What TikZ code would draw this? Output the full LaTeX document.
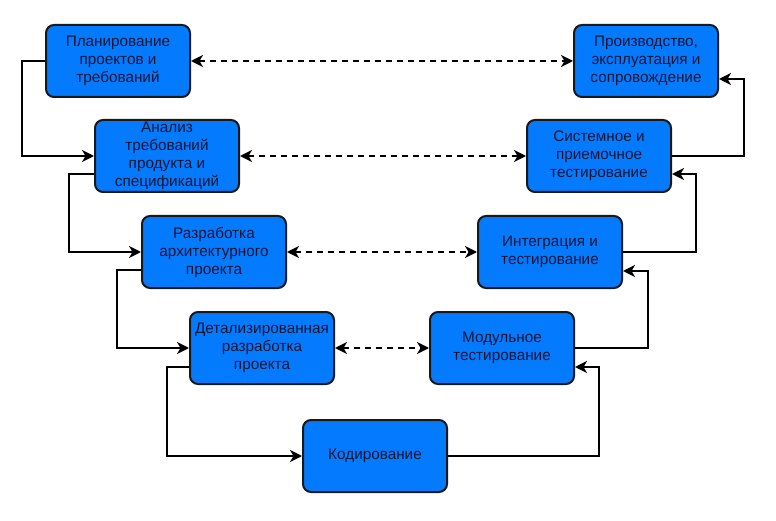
\documentclass[tikz,border=0pt]{standalone}
\usepackage{fontspec}
\setmainfont{Liberation Sans}
\usetikzlibrary{arrows.meta}
\usetikzlibrary{positioning}

\definecolor{stageblue}{RGB}{4,122,255}
\definecolor{stagetext}{RGB}{16,22,50}

\begin{document}
\begin{tikzpicture}[x=1pt,y=-1pt,
  stage/.style={draw=black!90, line width=2pt, fill=stageblue, rounded corners=8pt,
    minimum width=144pt, minimum height=72pt, align=center, text=stagetext,
    inner sep=1pt, font=\fontsize{15.3}{18}\selectfont},
  flow/.style={line width=2pt, -{Stealth[length=12pt,width=12pt,inset=3.5pt]}},
  link/.style={line width=2pt, dash pattern=on 6pt off 5pt,
    {Stealth[length=12pt,width=12pt,inset=3.5pt]}-{Stealth[length=12pt,width=12pt,inset=3.5pt]}}]
  \useasboundingbox (0,0) rectangle (776,521);
  % left branch
  \node[stage] (plan)   at (118,61)  {Планирование\\проектов и\\требований};
  \node[stage] (analiz) at (167,156) {Анализ\\требований\\продукта и\\спецификаций};
  \node[stage] (arch)   at (214,252) {Разработка\\архитектурного\\проекта};
  \node[stage] (detail) at (262,348) {Детализированная\\разработка\\проекта};
  \node[stage] (code)   at (375,456) {Кодирование};
  % right branch
  \node[stage] (modul)  at (502,348) {Модульное\\тестирование};
  \node[stage] (integr) at (550,252) {Интеграция и\\тестирование};
  \node[stage] (system) at (599,156) {Системное и\\приемочное\\тестирование};
  \node[stage] (prod)   at (646,61)  {Производство,\\эксплуатация и\\сопровождение};

  % down the V
  \draw[flow] (plan.west) -- ++(-23,0) |- (analiz.west);
  \draw[flow] ([yshift=-18pt]analiz.west) -- ++(-25,0) |- (arch.west);
  \draw[flow] ([yshift=-18pt]arch.west) -- ++(-24,0) |- (detail.west);
  \draw[flow] ([yshift=-19pt]detail.west) -- ++(-22,0) |- (code.west);
  % up the V
  \draw[flow] (code.east) -- ++(151,0) |- ([yshift=-19pt]modul.east);
  \draw[flow] (modul.east) -- ++(73,0) |- ([yshift=-19pt]integr.east);
  \draw[flow] (integr.east) -- ++(73,0) |- ([yshift=-18pt]system.east);
  \draw[flow] (system.east) -- ++(72,0) |- ([yshift=-18pt]prod.east);

  % verification links
  \draw[link] (plan.east) -- (prod.west);
  \draw[link] (analiz.east) -- (system.west);
  \draw[link] (arch.east) -- (integr.west);
  \draw[link] (detail.east) -- (modul.west);
\end{tikzpicture}
\end{document}
